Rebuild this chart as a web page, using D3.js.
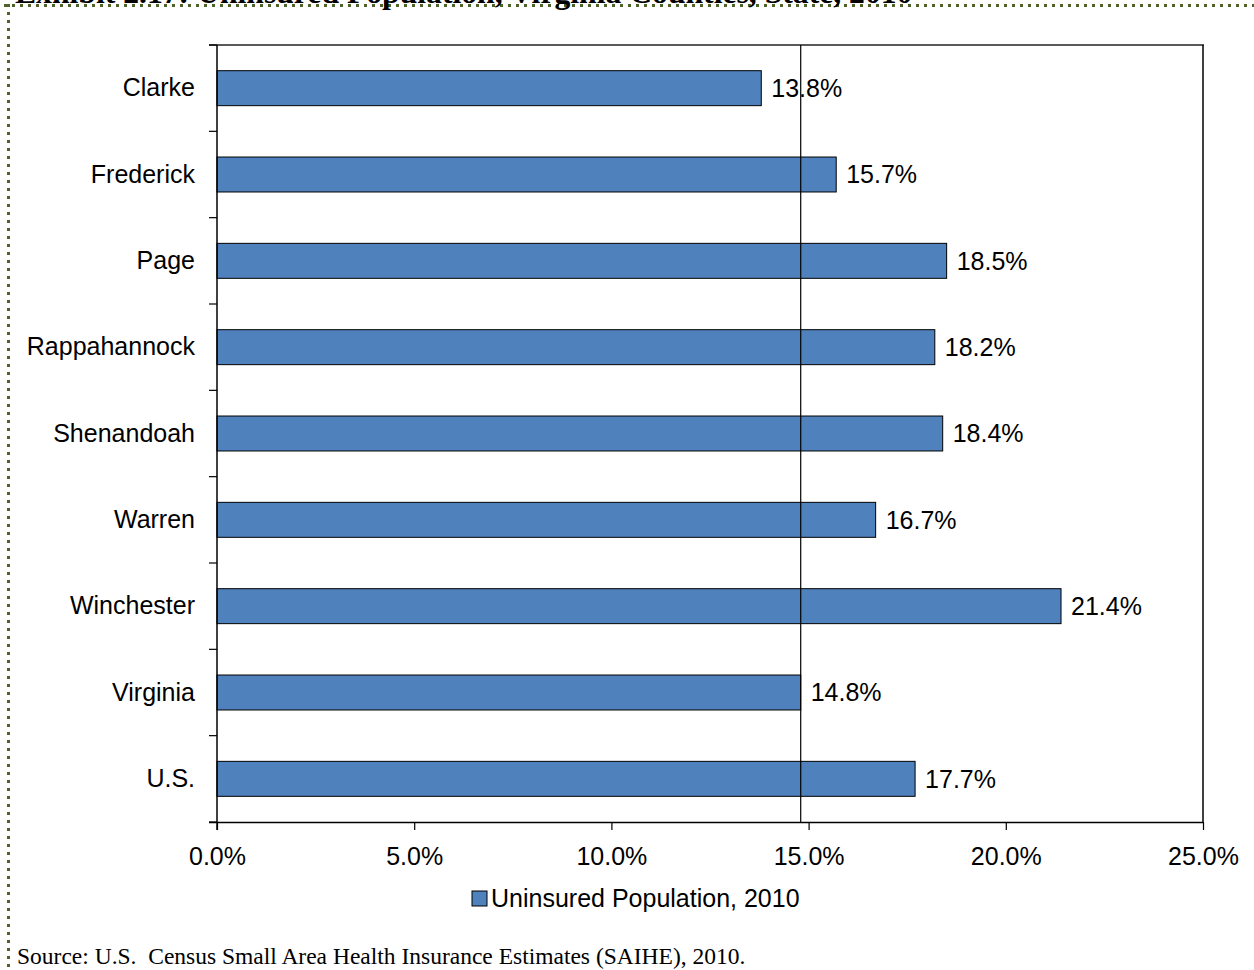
<!DOCTYPE html>
<html>
<head>
<meta charset="utf-8">
<script src="https://cdn.jsdelivr.net/npm/d3@7"></script>
<style>
  html, body { margin: 0; padding: 0; background: #fff; }
  svg { display: block; }
</style>
</head>
<body>
<svg id="chart" width="1254" height="970"></svg>
<script>
// Uninsured share of the population by locality, 2010
const categories = ["Clarke", "Frederick", "Page", "Rappahannock", "Shenandoah", "Warren", "Winchester", "Virginia", "U.S."];
const uninsured = [13.8, 15.7, 18.5, 18.2, 18.4, 16.7, 21.4, 14.8, 17.7];
const xTicks = [0, 5, 10, 15, 20, 25];
const seriesName = "Uninsured Population, 2010";
const referenceValue = 14.8; // Virginia statewide rate
const titleText = "Exhibit 2.17: Uninsured Population, Virginia Counties, State, 2010";
const sourceText = "Source: U.S.\u00a0 Census Small Area Health Insurance Estimates (SAIHE), 2010.";

const svg = d3.select("#chart");
const W = 1254, H = 970;
const plot = { left: 217, right: 1203, top: 45, bottom: 822 };
const barColor = "#4F81BD";
const sans = "Arial, 'Liberation Sans', sans-serif";
const serif = "'Times New Roman', 'Liberation Serif', serif";

// dotted page frame
const frameColor = "#4F6228";
svg.append("line").attr("x1", 4).attr("x2", W).attr("y1", 5.5).attr("y2", 5.5)
  .attr("stroke", frameColor).attr("stroke-width", 3).attr("stroke-dasharray", "3 5");
svg.append("line").attr("x1", 8.5).attr("x2", 8.5).attr("y1", 4).attr("y2", H)
  .attr("stroke", frameColor).attr("stroke-width", 3).attr("stroke-dasharray", "3 5");

// title sitting on the top edge of the page frame
const title = svg.append("text")
  .attr("x", 15).attr("y", 3)
  .attr("font-family", serif).attr("font-weight", "bold")
  .attr("font-size", 100).attr("fill", "#000")
  .text(titleText);
const tw = title.node().getComputedTextLength();
title.attr("font-size", 100 * 898 / tw);

// scales
const x = d3.scaleLinear().domain([0, 25]).range([plot.left, plot.right]);
const y = d3.scaleBand().domain(categories).range([plot.top, plot.bottom]).padding(0);
const barH = y.bandwidth() * 0.405;

// plot area border (top and right)
svg.append("line").attr("x1", plot.left - 8).attr("x2", plot.right + 1)
  .attr("y1", plot.top).attr("y2", plot.top)
  .attr("stroke", "#595959").attr("stroke-width", 2);
svg.append("line").attr("x1", plot.right).attr("x2", plot.right)
  .attr("y1", plot.top).attr("y2", plot.bottom)
  .attr("stroke", "#000").attr("stroke-width", 1.5);

// bars
svg.append("g").selectAll("rect")
  .data(categories)
  .join("rect")
  .attr("x", x(0))
  .attr("y", d => y(d) + y.bandwidth() / 2 - barH / 2)
  .attr("width", (d, i) => x(uninsured[i]) - x(0))
  .attr("height", barH)
  .attr("fill", barColor)
  .attr("stroke", "#000").attr("stroke-width", 1);

// value labels
svg.append("g").selectAll("text")
  .data(categories)
  .join("text")
  .attr("x", (d, i) => x(uninsured[i]) + 10)
  .attr("y", d => y(d) + y.bandwidth() / 2)
  .attr("dy", "0.35em")
  .attr("font-family", sans).attr("font-size", 25).attr("fill", "#000")
  .text((d, i) => uninsured[i].toFixed(1) + "%");

// reference line at the state rate
svg.append("line")
  .attr("x1", x(referenceValue)).attr("x2", x(referenceValue))
  .attr("y1", plot.top).attr("y2", plot.bottom)
  .attr("stroke", "#000").attr("stroke-width", 1.2);

// category axis: labels at band centres, ticks at band boundaries
const yAxis = svg.append("g")
  .attr("transform", `translate(${plot.left},0)`)
  .call(d3.axisLeft(y).tickSize(0).tickPadding(22));
yAxis.select(".domain").remove();
yAxis.selectAll("text").attr("font-family", sans).attr("font-size", 25).attr("fill", "#000");

const bounds = categories.map(c => y(c)).concat([plot.bottom]);
svg.append("g").selectAll("line")
  .data(bounds)
  .join("line")
  .attr("x1", plot.left - 8).attr("x2", plot.left)
  .attr("y1", d => d).attr("y2", d => d)
  .attr("stroke", "#000").attr("stroke-width", 1.2);
svg.append("line")
  .attr("x1", plot.left).attr("x2", plot.left)
  .attr("y1", plot.top).attr("y2", plot.bottom + 8)
  .attr("stroke", "#000").attr("stroke-width", 1.5);

// value axis
const xAxis = svg.append("g")
  .attr("transform", `translate(0,${plot.bottom})`)
  .call(d3.axisBottom(x).tickValues(xTicks).tickSize(8).tickPadding(17)
    .tickFormat(d => d.toFixed(1) + "%"));
xAxis.select(".domain").attr("d", `M${plot.left - 8},0.5H${plot.right}`)
  .attr("stroke", "#000").attr("stroke-width", 1.5);
xAxis.selectAll(".tick line").attr("stroke", "#000").attr("stroke-width", 1.2);
xAxis.selectAll("text").attr("font-family", sans).attr("font-size", 25).attr("fill", "#000");

// legend
const legend = svg.append("g").attr("transform", "translate(472,891)");
legend.append("rect").attr("width", 15).attr("height", 15)
  .attr("fill", barColor).attr("stroke", "#000").attr("stroke-width", 1);
legend.append("text").attr("x", 19).attr("y", 7.5).attr("dy", "0.35em")
  .attr("font-family", sans).attr("font-size", 25).attr("fill", "#000")
  .text(seriesName);

// source note
svg.append("text")
  .attr("x", 17).attr("y", 964)
  .attr("font-family", serif).attr("font-size", 23.5).attr("fill", "#000")
  .text(sourceText);
</script>
</body>
</html>
